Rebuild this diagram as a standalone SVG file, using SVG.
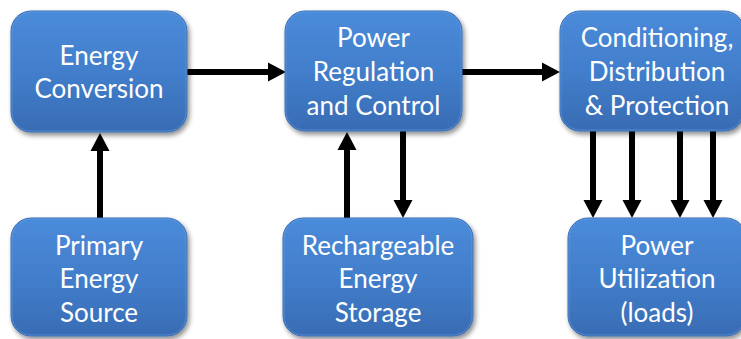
<svg xmlns="http://www.w3.org/2000/svg" width="741" height="339" viewBox="0 0 741 339">
  <style>
    .box { fill: url(#boxFill); stroke: #3a6db0; stroke-width: 1; filter: url(#shadow); }
    .rim { fill: none; stroke: #6ea4e6; stroke-width: 1; opacity: 0.5; }
    .label { font-family: Lato, "Open Sans", "Liberation Sans", sans-serif; font-size: 26px; fill: #ffffff; text-anchor: middle; }
    .wire { fill: none; stroke: #000000; stroke-width: 6; marker-end: url(#head); }
  </style>
  <defs>
    <linearGradient id="boxFill" x1="0" y1="0" x2="0" y2="1">
      <stop offset="0" stop-color="#4a8bda"/>
      <stop offset="0.5" stop-color="#427ecb"/>
      <stop offset="1" stop-color="#386cb4"/>
    </linearGradient>
    <filter id="shadow" x="-10%" y="-10%" width="125%" height="130%">
      <feGaussianBlur in="SourceAlpha" stdDeviation="2.5"/>
      <feOffset dx="1.5" dy="3" result="off"/>
      <feComponentTransfer>
        <feFuncA type="linear" slope="0.45"/>
      </feComponentTransfer>
      <feMerge>
        <feMergeNode/>
        <feMergeNode in="SourceGraphic"/>
      </feMerge>
    </filter>
    <marker id="head" markerUnits="userSpaceOnUse" markerWidth="18" markerHeight="20" viewBox="0 0 18 20" refX="8" refY="10" orient="auto">
      <path d="M0,0.5 L18,10 L0,19.5 Z" fill="#000000"/>
    </marker>
  </defs>

  <!-- connectors -->
  <g id="connectors">
    <path class="wire" d="M187,72 L276,72"/>
    <path class="wire" d="M462,72 L550,72"/>
    <path class="wire" d="M100,218 L100,143"/>
    <path class="wire" d="M347,218 L347,142"/>
    <path class="wire" d="M403,131 L403,208"/>
    <path class="wire" d="M593,130 L593,208"/>
    <path class="wire" d="M632,130 L632,208"/>
    <path class="wire" d="M680,130 L680,208"/>
    <path class="wire" d="M713,130 L713,208"/>
  </g>

  <!-- top row -->
  <g id="energy-conversion">
    <rect class="box" x="11" y="11" width="176" height="121" rx="20"/>
    <rect class="rim" x="12" y="12" width="174" height="119" rx="19"/>
    <text class="label" x="99" y="65">Energy</text>
    <text class="label" x="99" y="98">Conversion</text>
  </g>

  <g id="power-regulation">
    <rect class="box" x="285" y="11" width="177" height="120" rx="20"/>
    <rect class="rim" x="286" y="12" width="175" height="118" rx="19"/>
    <text class="label" x="373.5" y="47">Power</text>
    <text class="label" x="373.5" y="81">Regulation</text>
    <text class="label" x="373.5" y="115">and Control</text>
  </g>

  <g id="conditioning">
    <rect class="box" x="560" y="11" width="184" height="120" rx="20"/>
    <rect class="rim" x="561" y="12" width="182" height="118" rx="19"/>
    <text class="label" x="657" y="47">Conditioning,</text>
    <text class="label" x="657" y="81">Distribution</text>
    <text class="label" x="657" y="115">&amp; Protection</text>
  </g>

  <!-- bottom row -->
  <g id="primary-source">
    <rect class="box" x="11" y="218" width="176" height="118" rx="20"/>
    <rect class="rim" x="12" y="219" width="174" height="116" rx="19"/>
    <text class="label" x="99" y="255">Primary</text>
    <text class="label" x="99" y="288">Energy</text>
    <text class="label" x="99" y="322">Source</text>
  </g>

  <g id="rechargeable-storage">
    <rect class="box" x="283" y="218" width="190" height="118" rx="20"/>
    <rect class="rim" x="284" y="219" width="188" height="116" rx="19"/>
    <text class="label" x="378" y="255">Rechargeable</text>
    <text class="label" x="378" y="288">Energy</text>
    <text class="label" x="378" y="322">Storage</text>
  </g>

  <g id="power-utilization">
    <rect class="box" x="568" y="218" width="178" height="118" rx="20"/>
    <rect class="rim" x="569" y="219" width="176" height="116" rx="19"/>
    <text class="label" x="657" y="255">Power</text>
    <text class="label" x="657" y="288">Utilization</text>
    <text class="label" x="657" y="322">(loads)</text>
  </g>
</svg>
